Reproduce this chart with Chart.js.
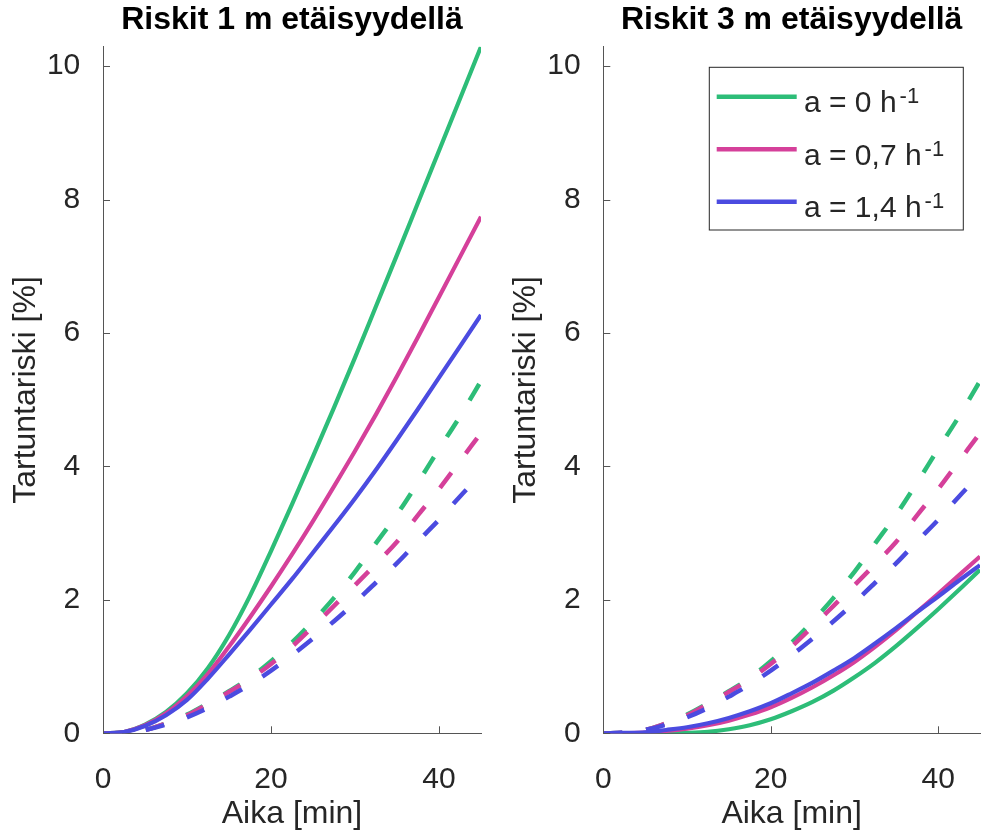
<!DOCTYPE html>
<html>
<head>
<meta charset="utf-8">
<script src="https://cdn.jsdelivr.net/npm/chart.js@4"></script>
<style>
  body { margin: 0; background: #fff; }
  #wrap { position: relative; width: 986px; height: 834px; }
  canvas { position: absolute; top: 0; }
</style>
</head>
<body>
<div id="wrap">
  <canvas id="c1" width="500" height="834" style="left:0"></canvas>
  <canvas id="c3" width="486" height="834" style="left:500px"></canvas>
</div>
<script>
// time axis (min)
const minutes = [0, 2.5, 5, 7.5, 10, 12.5, 15, 17.5, 20, 22.5, 25, 27.5, 30, 32.5, 35, 37.5, 40, 42.5, 45];

// 1 m distance, solid lines
const risk1mA0  = [0, 0.02, 0.13, 0.32, 0.6, 0.98, 1.47, 2.06, 2.73, 3.43, 4.15, 4.88, 5.63, 6.4, 7.17, 7.95, 8.73, 9.51, 10.29];
const risk1mA07 = [0, 0.02, 0.12, 0.3, 0.56, 0.89, 1.3, 1.74, 2.2, 2.68, 3.18, 3.7, 4.23, 4.78, 5.35, 5.94, 6.54, 7.14, 7.74];
const risk1mA14 = [0, 0.02, 0.11, 0.27, 0.5, 0.82, 1.18, 1.55, 1.93, 2.31, 2.71, 3.11, 3.52, 3.95, 4.4, 4.86, 5.33, 5.8, 6.27];

// 3 m distance, solid lines
const risk3mA0  = [0, 0, 0, 0, 0.005, 0.02, 0.06, 0.12, 0.21, 0.33, 0.47, 0.64, 0.84, 1.06, 1.31, 1.58, 1.86, 2.15, 2.45];
const risk3mA07 = [0, 0.003, 0.01, 0.035, 0.07, 0.12, 0.19, 0.28, 0.39, 0.53, 0.69, 0.87, 1.07, 1.3, 1.55, 1.82, 2.09, 2.37, 2.65];
const risk3mA14 = [0, 0.005, 0.015, 0.05, 0.09, 0.15, 0.23, 0.33, 0.45, 0.6, 0.76, 0.94, 1.13, 1.35, 1.58, 1.82, 2.05, 2.29, 2.52];

// dashed lines (same in both panels)
const dashA0  = [0, 0.01, 0.05, 0.15, 0.28, 0.45, 0.63, 0.83, 1.08, 1.36, 1.68, 2.03, 2.42, 2.85, 3.28, 3.76, 4.26, 4.75, 5.28];
const dashA07 = [0, 0.01, 0.05, 0.15, 0.27, 0.44, 0.62, 0.81, 1.04, 1.3, 1.6, 1.91, 2.22, 2.54, 2.87, 3.27, 3.66, 4.08, 4.5];
const dashA14 = [0, 0.01, 0.05, 0.13, 0.24, 0.38, 0.55, 0.73, 0.94, 1.17, 1.42, 1.68, 1.96, 2.26, 2.55, 2.88, 3.2, 3.55, 3.88];

const xTicks = [0, 20, 40];
const yTicks = [0, 2, 4, 6, 8, 10];
const xMax = 45;
const yMax = 10.29;

const titles = ['Riskit 1 m etäisyydellä', 'Riskit 3 m etäisyydellä'];
const xLabel = 'Aika [min]';
const yLabel = 'Tartuntariski [%]';
const legendText = ['a = 0 h', 'a = 0,7 h', 'a = 1,4 h'];
const legendSup = '-1';
const colors = ['#2dbd78', '#d5409a', '#4b4be0'];

const family = "'Liberation Sans', Arial, sans-serif";
const textColor = '#262626';
const axisColor = '#555555';

function pts(arr) {
  return arr.map((v, i) => ({ x: minutes[i], y: v }));
}

// matlab style ticks pointing into the plot
const inwardTicks = {
  id: 'inwardTicks',
  afterDraw(chart) {
    const { ctx, chartArea, scales } = chart;
    const len = 7;
    ctx.save();
    ctx.strokeStyle = axisColor;
    ctx.lineWidth = 1;
    ctx.beginPath();
    xTicks.forEach(v => {
      const px = Math.round(scales.x.getPixelForValue(v)) + 0.5;
      ctx.moveTo(px, chartArea.bottom);
      ctx.lineTo(px, chartArea.bottom - len);
    });
    yTicks.forEach(v => {
      const py = Math.round(scales.y.getPixelForValue(v)) + 0.5;
      ctx.moveTo(chartArea.left, py);
      ctx.lineTo(chartArea.left + len, py);
    });
    ctx.stroke();
    ctx.restore();
  }
};

// legend with superscript, drawn inside the plot area
const legendBox = {
  id: 'legendBox',
  afterDraw(chart, args, opts) {
    if (!opts.show) return;
    const { ctx, chartArea } = chart;
    const x0 = chartArea.right - 270.7, y0 = chartArea.top + 20.6, w = 254, h = 162.7;
    ctx.save();
    ctx.fillStyle = '#fff';
    ctx.fillRect(x0, y0, w, h);
    ctx.strokeStyle = textColor;
    ctx.lineWidth = 1;
    ctx.strokeRect(x0, y0, w, h);
    legendText.forEach((txt, i) => {
      const ly = y0 + 29.4 + i * 52.5;
      ctx.strokeStyle = colors[i];
      ctx.lineWidth = 4.5;
      ctx.beginPath();
      ctx.moveTo(x0 + 7.4, ly);
      ctx.lineTo(x0 + 87.4, ly);
      ctx.stroke();
      const tx = x0 + 94.7, ty = y0 + 45 + i * 52.5;
      ctx.fillStyle = textColor;
      ctx.textAlign = 'left';
      ctx.textBaseline = 'alphabetic';
      ctx.font = '30px ' + family;
      ctx.fillText(txt, tx, ty);
      const w1 = ctx.measureText(txt).width;
      ctx.font = '22px ' + family;
      ctx.fillText(legendSup, tx + w1 + 3, ty - 9);
    });
    ctx.restore();
  }
};

function makePanel(id, title, solid, yWidth, padRight, showLegend) {
  const datasets = [];
  [dashA0, dashA07, dashA14].forEach((arr, i) => {
    datasets.push({
      data: pts(arr), borderColor: colors[i], borderWidth: 4.5,
      borderDash: [19, 24], order: 20 - i
    });
  });
  solid.forEach((arr, i) => {
    datasets.push({
      data: pts(arr), borderColor: colors[i], borderWidth: 4.2, order: 10 - i
    });
  });

  new Chart(document.getElementById(id), {
    type: 'line',
    data: { datasets },
    plugins: [inwardTicks, legendBox],
    options: {
      responsive: false,
      devicePixelRatio: 1,
      animation: false,
      layout: { padding: { left: 0, right: padRight, top: 0, bottom: 0 } },
      elements: {
        point: { radius: 0 },
        line: { cubicInterpolationMode: 'monotone', fill: false }
      },
      plugins: {
        legend: { display: false },
        tooltip: { enabled: false },
        title: {
          display: true, text: title, fullSize: false, color: '#000',
          font: { family, size: 32, weight: 'bold' },
          padding: { top: 0.7, bottom: 7.6 }
        },
        legendBox: { show: showLegend }
      },
      scales: {
        x: {
          type: 'linear', min: 0, max: xMax,
          afterBuildTicks: s => { s.ticks = xTicks.map(v => ({ value: v })); },
          afterFit: s => { s.height = 100.7; },
          grid: { display: false },
          border: { color: axisColor, width: 1 },
          ticks: { padding: 20, color: textColor, maxRotation: 0, font: { family, size: 30 } },
          title: {
            display: true, text: xLabel, color: textColor,
            font: { family, size: 32 }, padding: { top: 0, bottom: 0.9 }
          }
        },
        y: {
          type: 'linear', min: 0, max: yMax,
          afterBuildTicks: s => { s.ticks = yTicks.map(v => ({ value: v })); },
          afterFit: s => { s.width = yWidth; },
          grid: { display: false },
          border: { color: axisColor, width: 1 },
          ticks: { padding: 14.7, color: textColor, font: { family, size: 30 } },
          title: {
            display: true, text: yLabel, color: textColor,
            font: { family, size: 32 }, padding: { top: 7, bottom: 0 }
          }
        }
      }
    }
  });
}

makePanel('c1', titles[0], [risk1mA0, risk1mA07, risk1mA14], 103, 19, false);
makePanel('c3', titles[1], [risk3mA0, risk3mA07, risk3mA14], 103.3, 6, true);
</script>
</body>
</html>
